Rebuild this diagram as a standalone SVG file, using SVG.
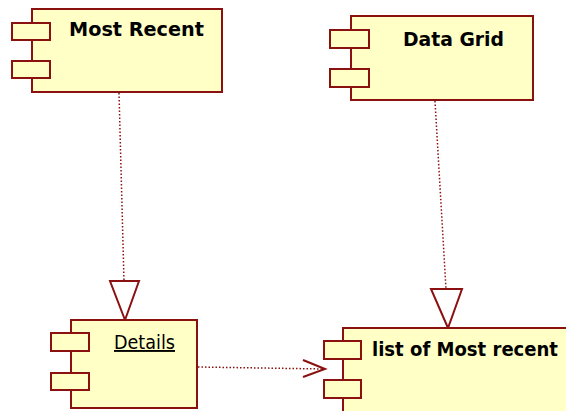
<svg xmlns="http://www.w3.org/2000/svg" width="566" height="411" viewBox="0 0 566 411">
<style>
.box{fill:#ffffc6;stroke:#8b1010;stroke-width:2}
.conn{fill:none;stroke:#8b1010;stroke-width:1.5;stroke-dasharray:1.5 2}
.head{fill:#ffffff;stroke:#8b1010;stroke-width:2;stroke-linejoin:miter}
.open{fill:none;stroke:#8b1010;stroke-width:2}
.t{font-family:"DejaVu Sans","Liberation Sans",sans-serif;font-size:19px;fill:#000}
.b{font-weight:bold}
</style>
<rect width="566" height="411" fill="#ffffff"/>
<g id="connectors">
<line class="conn" x1="119" y1="93" x2="124" y2="281"/>
<polygon class="head" points="110,281 139,281 125,320"/>
<line class="conn" x1="435" y1="101" x2="446" y2="289"/>
<polygon class="head" points="431,289 462,289 448,328"/>
<line class="conn" x1="198" y1="367" x2="323" y2="369"/>
<polyline class="open" points="303,360 325,369 303,377"/>
</g>
<g id="most-recent">
<rect class="box" x="32" y="9" width="190" height="83"/>
<rect class="box" x="12" y="23" width="38" height="17"/>
<rect class="box" x="12" y="61" width="38" height="17"/>
<text class="t b" x="69" y="36" textLength="135" lengthAdjust="spacingAndGlyphs">Most Recent</text>
</g>
<g id="data-grid">
<rect class="box" x="351" y="16" width="182" height="84"/>
<rect class="box" x="330" y="30" width="39" height="18"/>
<rect class="box" x="330" y="69" width="39" height="18"/>
<text class="t b" x="403" y="46" textLength="101" lengthAdjust="spacingAndGlyphs">Data Grid</text>
</g>
<g id="details">
<rect class="box" x="71" y="320" width="126" height="88"/>
<rect class="box" x="51" y="333" width="38" height="18"/>
<rect class="box" x="51" y="373" width="38" height="17"/>
<text class="t" x="114" y="349" font-size="17.5" text-decoration="underline" textLength="61" lengthAdjust="spacingAndGlyphs">Details</text>
</g>
<g id="list-of-most-recent">
<rect class="box" x="343" y="328" width="240" height="100"/>
<rect class="box" x="324" y="341" width="37" height="18"/>
<rect class="box" x="324" y="380" width="37" height="18"/>
<text class="t b" x="372" y="356" font-size="18.5" textLength="186" lengthAdjust="spacingAndGlyphs">list of Most recent</text>
</g>
</svg>
